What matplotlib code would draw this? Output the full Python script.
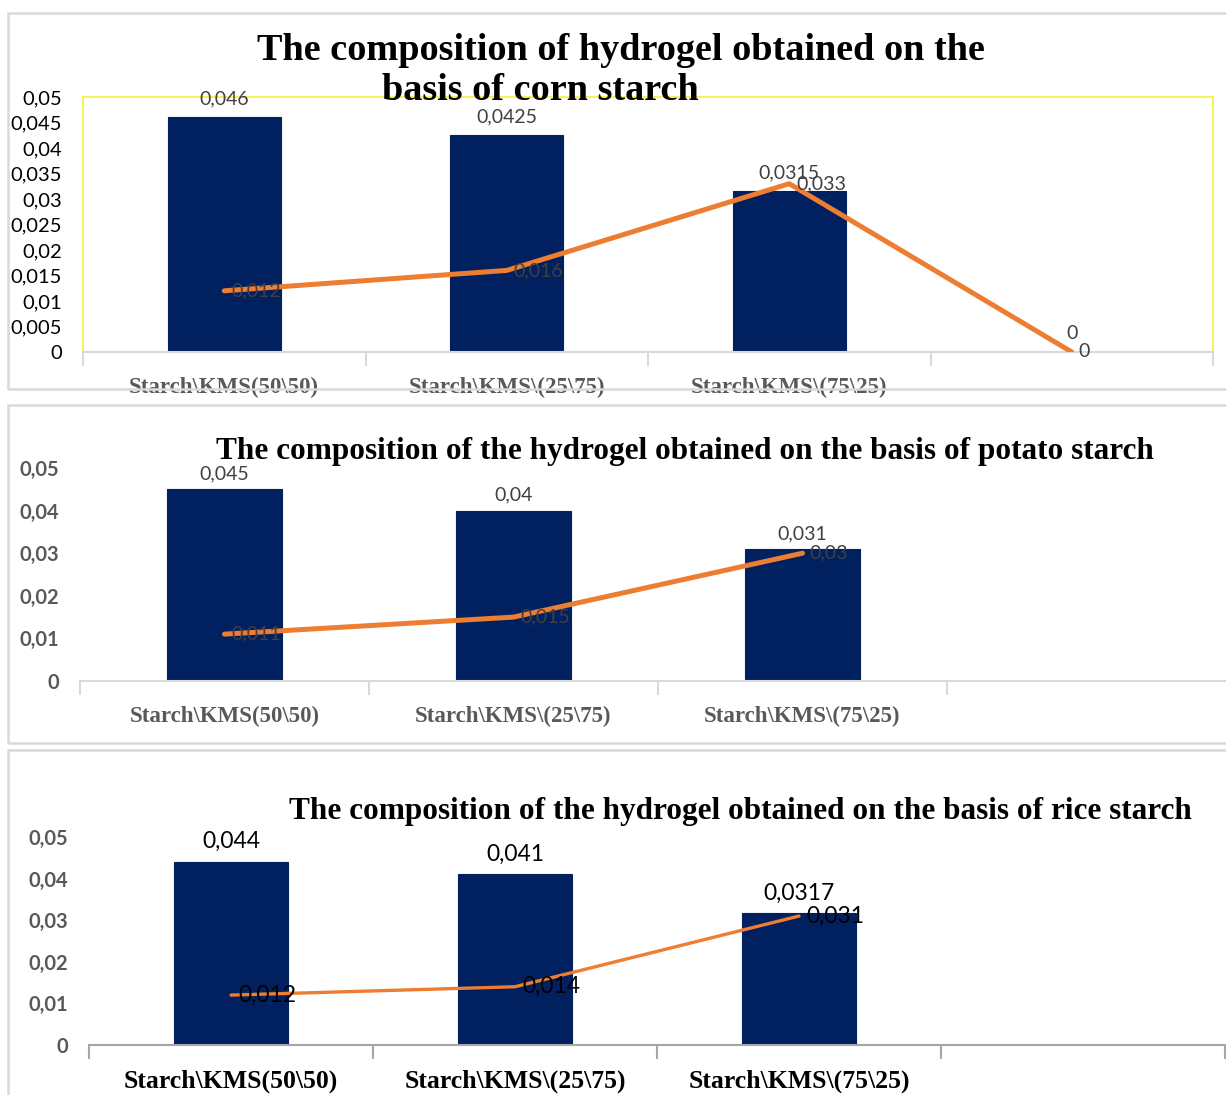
import numpy as np
import matplotlib.pyplot as plt
from matplotlib.patches import Rectangle
from matplotlib.ticker import FuncFormatter

# sample names on the x axis
categories = ['Starch\\KMS(50\\50)', 'Starch\\KMS\\(25\\75)', 'Starch\\KMS\\(75\\25)']

# corn starch (fourth slot is an empty sample)
corn_bars = [0.046, 0.0425, 0.0315, 0]
corn_line = [0.012, 0.016, 0.033, 0]

# potato starch
potato_bars = [0.045, 0.04, 0.031]
potato_line = [0.011, 0.015, 0.03]

# rice starch
rice_bars = [0.044, 0.041, 0.0317]
rice_line = [0.012, 0.014, 0.031]

W, H = 1226, 1095
BAR_COLOR = '#002060'
LINE_COLOR = '#ED7D31'
SANS = ['Lato', 'DejaVu Sans']
SERIF = ['Liberation Serif', 'DejaVu Serif']


def comma(v):
    # decimal comma, the way the numbers are written on the chart
    return ('%g' % round(v, 5)).replace('.', ',')


def px_axes(fig, left, top, right, bottom):
    # place an axes using pixel edges measured from the top left corner
    return fig.add_axes([left / W, 1 - bottom / H, (right - left) / W, (bottom - top) / H])


def draw_panel(ax, bars, line, step, lw_line, val_size, val_color, ytick_bold, ytick_color,
               xlab_size, xlab_color, axis_color, bar_gap=7):
    x = np.arange(len(bars))
    ax.bar(x, bars, width=0.4, color=BAR_COLOR, edgecolor=BAR_COLOR, linewidth=0.8, zorder=2)
    ax.plot(np.arange(len(line)), line, color=LINE_COLOR, linewidth=lw_line,
            solid_capstyle='round', solid_joinstyle='round', zorder=3)

    # value labels: bars above, line points to the right
    for i, v in enumerate(bars):
        ax.annotate(comma(v), (i, v), xytext=(0, bar_gap), textcoords='offset points', ha='center',
                    va='bottom', fontsize=val_size, color=val_color, family=SANS, zorder=4)
    for i, v in enumerate(line):
        ax.annotate(comma(v), (i, v), xytext=(5, 0), textcoords='offset points', ha='left',
                    va='center', fontsize=val_size, color=val_color, family=SANS, zorder=4)

    ax.set_xlim(-0.5, 3.5)
    ax.set_ylim(0, 0.05)
    ax.set_yticks(np.arange(0, 0.05 + step / 2, step))
    ax.yaxis.set_major_formatter(FuncFormatter(lambda v, p: comma(v)))
    ax.tick_params(axis='y', length=0, pad=15, labelsize=14.5, labelcolor=ytick_color)
    for t in ax.get_yticklabels():
        t.set_family(SANS)
        t.set_fontweight('bold' if ytick_bold else 'normal')

    # category boundaries get the tick marks, names sit in between
    ax.set_xticks(np.arange(-0.5, 4, 1))
    ax.set_xticklabels([])
    ax.tick_params(axis='x', which='major', length=10, width=1.5, color=axis_color, direction='out')
    ax.set_xticks(np.arange(len(categories)), minor=True)
    ax.set_xticklabels(categories, minor=True, fontsize=xlab_size, color=xlab_color,
                       family=SERIF, fontweight='bold')
    ax.tick_params(axis='x', which='minor', length=0, pad=18)

    for s in ['top', 'left', 'right']:
        ax.spines[s].set_visible(False)
    ax.spines['bottom'].set_color(axis_color)
    ax.spines['bottom'].set_linewidth(1.5)
    ax.set_facecolor('none')


fig = plt.figure(figsize=(W / 100, H / 100), dpi=100)

# light grey frames around the three charts
for top, bottom in [(13, 389), (405, 743), (750, 1120)]:
    fig.patches.append(Rectangle((8 / W, 1 - bottom / H), 1.1, (bottom - top) / H,
                                 transform=fig.transFigure, fill=False,
                                 edgecolor='#D9D9D9', linewidth=1.8))

# corn starch
ax1 = px_axes(fig, 83, 97, 1213, 352)
draw_panel(ax1, corn_bars, corn_line, 0.005, 3.6, 14, '#404040', False, 'black', 16.5, '#595959', '#D9D9D9')
for s in ['top', 'left', 'right']:
    ax1.spines[s].set_visible(True)
    ax1.spines[s].set_color('#F2F23A')
    ax1.spines[s].set_linewidth(1.2)
fig.text(621 / W, 1 - 51 / H, 'The composition of hydrogel obtained on the', ha='center', va='center',
         fontsize=27.5, fontweight='bold', family=SERIF)
fig.text(540 / W, 1 - 91 / H, 'basis of corn starch', ha='center', va='center',
         fontsize=27.5, fontweight='bold', family=SERIF)

# potato starch
ax2 = px_axes(fig, 80, 468, 1236, 681)
draw_panel(ax2, potato_bars, potato_line, 0.01, 3.6, 14, '#404040', True, '#595959', 16.5, '#595959', '#D9D9D9',
           bar_gap=5)
fig.text(685 / W, 1 - 451 / H, 'The composition of the hydrogel obtained on the basis of potato starch',
         ha='center', va='center', fontsize=22.5, fontweight='bold', family=SERIF)

# rice starch
ax3 = px_axes(fig, 89, 837, 1225, 1045)
draw_panel(ax3, rice_bars, rice_line, 0.01, 2.4, 16.5, 'black', True, '#595959', 18.5, 'black', '#A6A6A6')
fig.text(740 / W, 1 - 812 / H, 'The composition of the hydrogel obtained on the basis of rice starch',
         ha='center', va='center', fontsize=22.5, fontweight='bold', family=SERIF)

plt.savefig('out.png', dpi=100)
